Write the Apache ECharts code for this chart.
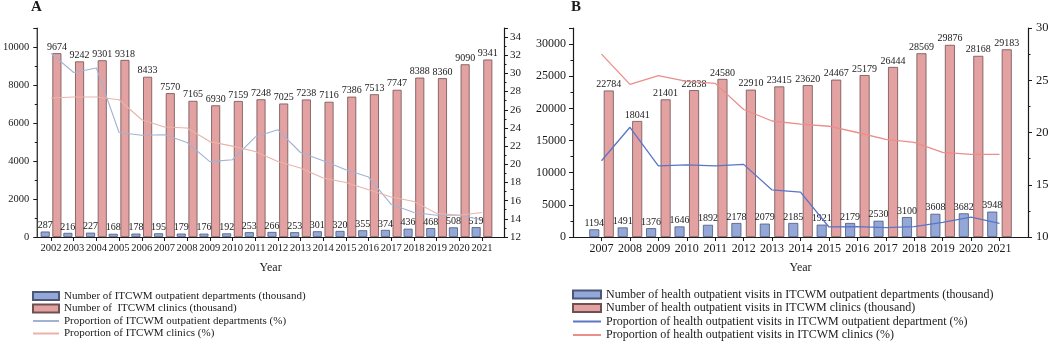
<!DOCTYPE html>
<html>
<head>
<meta charset="utf-8">
<script src="https://cdn.jsdelivr.net/npm/echarts@6/dist/echarts.min.js"></script>
<style>
  html, body { margin: 0; padding: 0; background: #fff; }
  #chart { width: 1052px; height: 344px; }
</style>
</head>
<body>
<div id="chart"></div>
<script>
// panel A: institutions, 2002-2021
const yearsA = ["2002", "2003", "2004", "2005", "2006", "2007", "2008", "2009", "2010", "2011",
  "2012", "2013", "2014", "2015", "2016", "2017", "2018", "2019", "2020", "2021"];
const deptCountA = [287, 216, 227, 168, 178, 195, 179, 176, 192, 253, 266, 253, 301, 320, 355, 374, 436, 468, 508, 519];
const clinicCountA = [9674, 9242, 9301, 9318, 8433, 7570, 7165, 6930, 7159, 7248, 7025, 7238, 7116, 7386, 7513, 7747, 8388, 8360, 9090, 9341];
const deptShareA = [32.2, 30.1, 30.6, 23.5, 23.2, 23.25, 22.4, 20.3, 20.5, 23.0, 23.8, 21.3, 20.4, 19.4, 18.6, 15.6, 14.7, 14.4, 14.4, 13.9];
const clinicShareA = [27.3, 27.4, 27.4, 27.1, 24.9, 24.1, 24.0, 22.5, 22.0, 21.4, 20.3, 19.6, 18.5, 18.0, 17.2, 16.4, 15.9, 14.6, 14.4, 14.7];

// panel B: health outpatient visits, 2007-2021
const yearsB = ["2007", "2008", "2009", "2010", "2011", "2012", "2013", "2014", "2015", "2016", "2017", "2018", "2019", "2020", "2021"];
const deptVisitsB = [1194, 1491, 1376, 1646, 1892, 2178, 2079, 2185, 1921, 2179, 2530, 3100, 3608, 3682, 3948];
const clinicVisitsB = [22784, 18041, 21401, 22838, 24580, 22910, 23415, 23620, 24467, 25179, 26444, 28569, 29876, 28168, 29183];
const deptVisitShareB = [17.3, 20.5, 16.8, 16.9, 16.8, 16.95, 14.5, 14.3, 10.96, 11.0, 10.9, 11.0, 11.4, 11.9, 11.3];
const clinicVisitShareB = [27.5, 24.6, 25.45, 24.9, 24.7, 22.2, 21.1, 20.8, 20.6, 20.0, 19.35, 19.06, 18.1, 17.9, 17.9];

const namesA = [
  "Number of ITCWM outpatient departments (thousand)",
  "Number of  ITCWM clinics (thousand)",
  "Proportion of ITCWM outpatient departments (%)",
  "Proportion of ITCWM clinics (%)"
];
const namesB = [
  "Number of health outpatient visits in ITCWM outpatient departments (thousand)",
  "Number of health outpatient visits in ITCWM clinics (thousand)",
  "Proportion of health outpatient visits in ITCWM outpatient department (%)",
  "Proportion of health outpatient visits in ITCWM clinics (%)"
];

const FONT = "'Liberation Serif', 'Times New Roman', serif";
const INK = "#1a1a1a";
const axisLine = { show: true, lineStyle: { color: INK, width: 1.2 } };

// visible value axis on the frame grid
function scaleAxis(gridIndex, position, min, max, interval, fontSize, margin, showMax) {
  return {
    type: "value", gridIndex, position, min, max, interval,
    axisLine,
    axisTick: { show: true, length: 4, lineStyle: { color: INK } },
    minorTick: { show: true, splitNumber: 2, length: 2.5, lineStyle: { color: INK } },
    axisLabel: {
      showMaxLabel: !!showMax, fontFamily: FONT, fontSize, color: INK, margin,
      formatter: v => String(v)
    },
    splitLine: { show: false }
  };
}
// invisible twin used to place the marks
function hiddenAxis(gridIndex, min, max) {
  return { type: "value", gridIndex, min, max, show: false, splitLine: { show: false } };
}
function frameX(gridIndex) {
  return {
    type: "value", gridIndex, min: 0, max: 1,
    axisLine, axisTick: { show: false }, axisLabel: { show: false }, splitLine: { show: false },
    name: "Year", nameLocation: "middle", nameGap: 25,
    nameTextStyle: { fontFamily: FONT, fontSize: 12, color: INK }
  };
}
function yearX(gridIndex, data, fontSize) {
  return {
    type: "category", gridIndex, data,
    axisLine: { show: false },
    axisTick: { show: true, alignWithLabel: true, length: 4, lineStyle: { color: INK } },
    axisLabel: { interval: 0, fontFamily: FONT, fontSize, color: INK, margin: 6 },
    splitLine: { show: false }
  };
}
function bars(name, data, xi, yi, fill, border, width, gap) {
  return {
    name, type: "bar", xAxisIndex: xi, yAxisIndex: yi, data,
    barWidth: width, barGap: gap,
    itemStyle: { color: fill, borderColor: border, borderWidth: 0.8 },
    label: { show: true, position: "top", distance: 1, fontFamily: FONT, fontSize: 10, color: INK }
  };
}
function line(name, data, xi, yi, color, width) {
  return {
    name, type: "line", xAxisIndex: xi, yAxisIndex: yi, data,
    symbol: "none", z: 4,
    lineStyle: { color, width }, itemStyle: { color }
  };
}
function legend(names, left, top, iconWidth, fontSize, lineHeight) {
  return {
    orient: "vertical", left, top, padding: 0, height: 70,
    itemWidth: iconWidth, itemHeight: 8, itemGap: 0.5,
    data: [
      { name: names[0], icon: "rect" },
      { name: names[1], icon: "rect" },
      { name: names[2], itemStyle: { opacity: 0 } },
      { name: names[3], itemStyle: { opacity: 0 } }
    ],
    textStyle: { fontFamily: FONT, fontSize, color: INK, lineHeight }
  };
}

const chart = echarts.init(document.getElementById("chart"));
chart.setOption({
  animation: false,
  title: [
    { text: "A", left: 31, top: 0, padding: 0, textStyle: { fontFamily: FONT, fontSize: 15, fontWeight: "bold", color: INK } },
    { text: "B", left: 571, top: 0, padding: 0, textStyle: { fontFamily: FONT, fontSize: 15, fontWeight: "bold", color: INK } }
  ],
  grid: [
    { left: 35, right: 548, top: 28, bottom: 107 },
    { left: 39.7, right: 558.7, top: 28, bottom: 107 },
    { left: 573, right: 24, top: 28, bottom: 107 },
    { left: 587.3, right: 38.3, top: 28, bottom: 107 }
  ],
  xAxis: [frameX(0), yearX(1, yearsA, 10.5), frameX(2), yearX(3, yearsB, 12)],
  yAxis: [
    scaleAxis(0, "left", 0, 11000, 2000, 10.5, 8),
    scaleAxis(0, "right", 12, 35, 2, 11, 6),
    hiddenAxis(1, 0, 11000),
    hiddenAxis(1, 12, 35),
    scaleAxis(2, "left", 0, 32500, 5000, 12, 7),
    scaleAxis(2, "right", 10, 30, 5, 12.5, 8, true),
    hiddenAxis(3, 0, 32500),
    hiddenAxis(3, 10, 30)
  ],
  legend: [legend(namesA, 32, 290, 26, 11, 12), legend(namesB, 572, 288, 28, 12, 13)],
  series: [
    bars(namesA[0], deptCountA, 1, 2, "#93a8d8", "#4b5878", 9, "30%"),
    bars(namesA[1], clinicCountA, 1, 2, "#e3a2a1", "#6e5252", 9, "30%"),
    line(namesA[2], deptShareA, 1, 3, "#a3b2d2", 1.1),
    line(namesA[3], clinicShareA, 1, 3, "#e9b3aa", 1.1),
    bars(namesB[0], deptVisitsB, 3, 6, "#93a8d8", "#4b5878", 10, "45%"),
    bars(namesB[1], clinicVisitsB, 3, 6, "#e3a2a1", "#6e5252", 10, "45%"),
    line(namesB[2], deptVisitShareB, 3, 7, "#5b74c6", 1.3),
    line(namesB[3], clinicVisitShareB, 3, 7, "#ea8e8a", 1.3)
  ]
});
</script>
</body>
</html>
